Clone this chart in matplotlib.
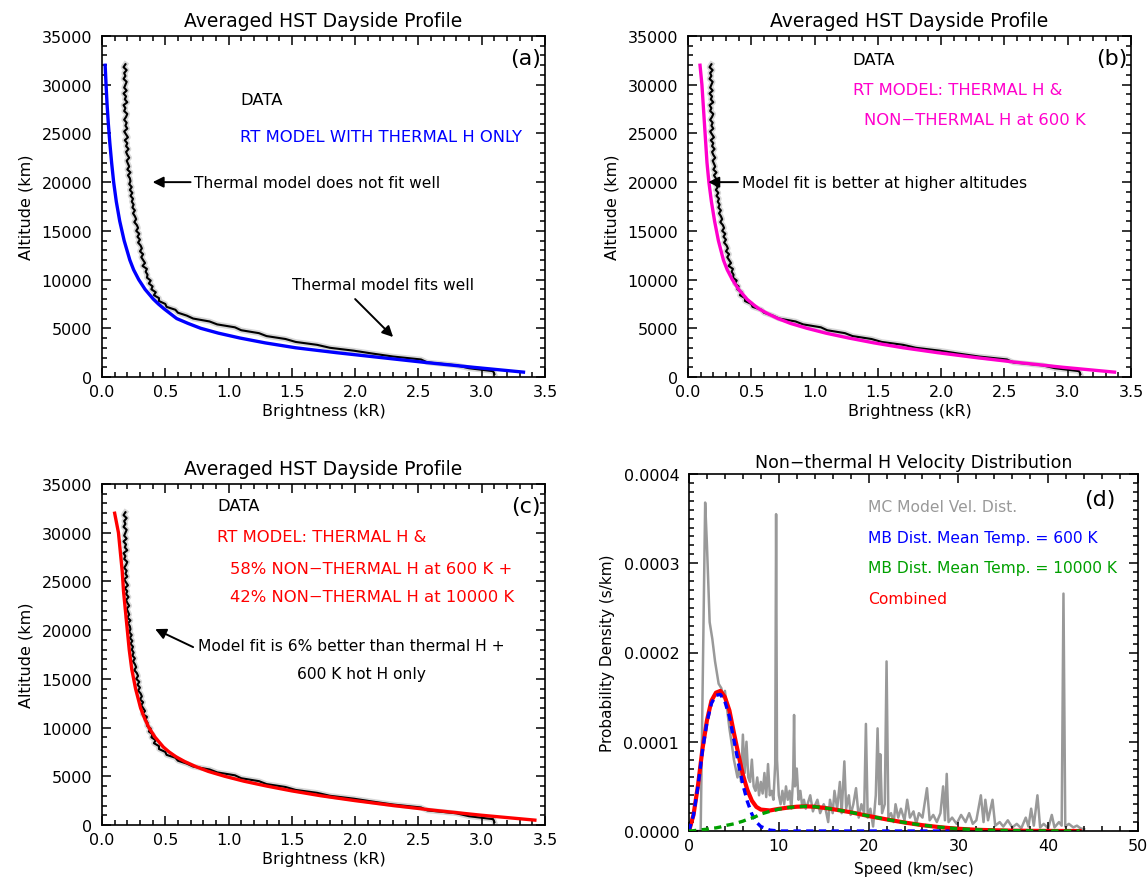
import matplotlib
matplotlib.use("Agg")
import matplotlib.pyplot as plt
from matplotlib.ticker import MultipleLocator, FormatStrFormatter
import numpy as np

# measured brightness profile (same data in a, b, c)
DATA_ALT = np.arange(300, 32101, 300)
DATA_BRIGHT = [3.10, 3.09, 2.90, 2.80, 2.57, 2.52, 2.30, 2.14, 1.99, 1.80,
               1.70, 1.53, 1.45, 1.30, 1.24, 1.10, 1.05, 0.91, 0.85, 0.72,
               0.67, 0.60, 0.58, 0.51, 0.50, 0.45, 0.45, 0.41, 0.425, 0.39,
               0.40, 0.37, 0.385, 0.355, 0.36, 0.345, 0.355, 0.32, 0.34, 0.325,
               0.31, 0.325, 0.30, 0.315, 0.305, 0.285, 0.30, 0.28, 0.295, 0.27,
               0.285, 0.275, 0.255, 0.27, 0.26, 0.245, 0.26, 0.24, 0.25, 0.235,
               0.245, 0.225, 0.24, 0.22, 0.235, 0.215, 0.225, 0.22, 0.205, 0.225,
               0.20, 0.215, 0.205, 0.195, 0.215, 0.20, 0.19, 0.21, 0.19, 0.20,
               0.18, 0.205, 0.19, 0.175, 0.20, 0.185, 0.195, 0.175, 0.19, 0.20,
               0.175, 0.185, 0.17, 0.20, 0.18, 0.19, 0.17, 0.195, 0.175, 0.185,
               0.195, 0.17, 0.185, 0.175, 0.195, 0.17, 0.185]

# radiative transfer models
MODEL_ALT = [500, 1000, 1500, 2000, 2500, 3000, 3500, 4000, 4500, 5000,
             5500, 6000, 6500, 7000, 7500, 8000, 9000, 10000, 11000, 12000,
             14000, 16000, 18000, 20000, 22000, 24000, 26000, 28000, 30000, 32000]
thermal_only = [3.33, 2.93, 2.55, 2.20, 1.85, 1.53, 1.29, 1.09, 0.92, 0.78,
                0.68, 0.59, 0.54, 0.49, 0.445, 0.405, 0.34, 0.29, 0.25, 0.22,
                0.175, 0.14, 0.113, 0.092, 0.076, 0.062, 0.050, 0.040, 0.032, 0.025]
thermal_600 = [3.37, 2.96, 2.60, 2.27, 1.97, 1.70, 1.47, 1.27, 1.09, 0.94,
               0.81, 0.71, 0.63, 0.56, 0.51, 0.465, 0.40, 0.35, 0.31, 0.28,
               0.24, 0.21, 0.185, 0.165, 0.15, 0.14, 0.13, 0.12, 0.11, 0.095]
thermal_600_10000 = [3.42, 3.00, 2.63, 2.30, 2.00, 1.73, 1.50, 1.30, 1.12, 0.97,
                     0.84, 0.74, 0.655, 0.585, 0.53, 0.485, 0.42, 0.37, 0.335, 0.305,
                     0.265, 0.235, 0.215, 0.20, 0.185, 0.17, 0.16, 0.145, 0.13, 0.10]

# velocity distributions (probability density in 1e-6 s/km)
MC_SPEED = [0, 1.3, 1.5, 1.8, 2.0, 2.3, 2.6, 2.9, 3.3, 3.6, 3.8, 4.0, 4.2, 4.5, 4.8,
            5.0, 5.2, 5.4, 5.6, 5.8, 6.0, 6.2, 6.4, 6.6, 6.8, 7.0, 7.2, 7.4, 7.6, 7.8,
            8.0, 8.2, 8.4, 8.6, 8.8, 9.0, 9.2, 9.4, 9.6, 9.7, 9.8, 10.0, 10.2, 10.4, 10.6,
            10.8, 11.0, 11.2, 11.4, 11.6, 11.7, 11.8, 12.0, 12.2, 12.4, 12.6, 12.8, 13.0,
            13.2, 13.5, 13.8, 14.0, 14.3, 14.6, 15.0, 15.2, 15.5, 15.7, 16.0, 16.2, 16.5,
            16.8, 17.0, 17.3, 17.5, 17.8, 18.0, 18.3, 18.6, 18.9, 19.2, 19.5, 19.7, 19.9,
            20.2, 20.5, 20.8, 21.0, 21.2, 21.3, 21.5, 21.8, 22.0, 22.2, 22.5, 22.8, 23.0,
            23.3, 23.6, 24.0, 24.3, 24.6, 25.0, 25.3, 25.6, 26.0, 26.5, 26.8, 27.2, 27.6,
            28.0, 28.3, 28.5, 28.7, 28.9, 29.3, 29.8, 30.3, 30.8, 31.2, 31.6, 32.0, 32.5,
            32.8, 33.0, 33.3, 33.8, 34.1, 34.6, 35.0, 35.5, 36.0, 36.5, 37.0, 37.5, 37.8,
            38.1, 38.4, 38.8, 39.1, 39.5, 40.0, 40.4, 40.7, 41.2, 41.5, 41.7, 41.9, 42.3,
            42.8, 43.2, 43.6, 44.0]
MC_PDF = [0, 0, 150, 368, 320, 234, 215, 190, 165, 160, 150, 157, 140, 115, 95,
          80, 70, 60, 75, 55, 108, 65, 100, 60, 55, 80, 50, 45, 60, 40,
          55, 42, 65, 38, 75, 40, 45, 35, 75, 355, 80, 40, 30, 45, 30,
          50, 35, 45, 25, 60, 130, 50, 70, 35, 45, 28, 35, 25,
          30, 40, 22, 28, 35, 20, 30, 25, 10, 35, 20, 45, 25,
          55, 20, 78, 25, 40, 18, 30, 48, 15, 30, 20, 120, 15,
          25, 5, 40, 115, 30, 86, 20, 30, 190, 15, 20, 10, 30,
          15, 25, 12, 35, 15, 22, 8, 20, 15, 48, 12, 18, 10,
          20, 50, 12, 64, 10, 15, 8, 18, 10, 20, 8, 12, 40,
          10, 35, 12, 35, 6, 10, 5, 12, 4, 8, 3, 15, 5,
          25, 6, 40, 4, 8, 3, 18, 4, 10, 6, 266, 5, 8,
          4, 6, 3, 2]

MB_SPEED = [0, 0.5, 1, 1.5, 2, 2.5, 3, 3.5, 4, 4.5, 5, 5.5, 6, 6.5, 7, 7.5, 8, 9,
            10, 11, 12, 13, 14, 15, 16, 18, 20, 22, 24, 26, 28, 29, 30, 32, 34, 36,
            38, 40, 42, 43.5]
mb_600 = [0, 18, 50, 90, 122, 143, 152, 153, 145, 128, 102, 76, 52, 33, 19, 10, 5, 1,
          0, 0, 0, 0, 0, 0, 0, 0, 0, 0, 0, 0, 0, 0]
mb_10000 = [0, 0.3, 1, 1.5, 2, 3, 3.5, 4.5, 6, 7, 8, 9.5, 11, 13, 14.5, 16.5, 19, 22,
            24.5, 26.2, 27.2, 27.6, 27.2, 26, 24.5, 21, 16.8, 13, 9.5, 6.5, 4.2, 3.3, 2.5,
            1.4, 0.8, 0.4, 0.2, 0.1, 0, 0]
combined = [0, 18, 51, 92, 124, 146, 155, 157, 150, 135, 110, 86, 63, 46, 34, 27, 24, 23,
            24.8, 26.2, 27.2, 27.6, 27.2, 26, 24.5, 21, 16.8, 13, 9.5, 6.5, 4.2, 3.3, 2.5,
            1.4, 0.8, 0.4, 0.2, 0.1, 0, 0]

W, H = 1147, 879
fig = plt.figure(figsize=(W / 100, H / 100), dpi=100)
plt.rcParams['font.family'] = ['DejaVu Sans']


def px_axes(l, t, r, b):
    return fig.add_axes([l / W, 1 - b / H, (r - l) / W, (b - t) / H])


def style(ax):
    ax.tick_params(which='both', direction='in', top=True, right=True, width=1.1,
                   labelsize=11.5)
    ax.tick_params(which='major', length=6.5)
    ax.tick_params(which='minor', length=3.5)
    ax.tick_params(axis='x', pad=5)
    ax.tick_params(axis='y', pad=7)
    for s in ax.spines.values():
        s.set_linewidth(1.2)


def profile_axes(l, t, r, b, tag):
    ax = px_axes(l, t, r, b)
    style(ax)
    ax.set_xlim(0, 3.5)
    ax.set_ylim(0, 35000)
    ax.xaxis.set_major_locator(MultipleLocator(0.5))
    ax.xaxis.set_minor_locator(MultipleLocator(0.1))
    ax.xaxis.set_major_formatter(FormatStrFormatter('%.1f'))
    ax.yaxis.set_major_locator(MultipleLocator(5000))
    ax.yaxis.set_minor_locator(MultipleLocator(1000))
    ax.set_title('Averaged HST Dayside Profile', fontsize=13.5, pad=7)
    ax.set_xlabel('Brightness (kR)', fontsize=11.5, labelpad=3)
    ax.set_ylabel('Altitude (km)', fontsize=11.5, labelpad=6)
    ax.text(3.35, 32700, tag, fontsize=16, ha='center', va='center')
    ax.plot(DATA_BRIGHT, DATA_ALT, color='#d8d8d8', lw=4.0, zorder=1)
    ax.plot(DATA_BRIGHT, DATA_ALT, color='black', lw=1.5, zorder=2)
    return ax


def arrow(ax, tail, head):
    ax.annotate('', xy=head, xytext=tail,
                arrowprops=dict(arrowstyle='-|>', color='black', lw=1.4,
                                mutation_scale=16, shrinkA=0, shrinkB=0))


fs = 11.2   # mixed-case notes
fu = 11.8   # upper-case labels

# (a)
ax = profile_axes(102, 37, 545, 378, '(a)')
ax.plot(thermal_only, MODEL_ALT, color='#0000ff', lw=2.4, zorder=3)
ax.text(1.09, 28500, 'DATA', fontsize=fu, va='center')
ax.text(1.09, 24700, 'RT MODEL WITH THERMAL H ONLY', fontsize=fu, va='center', color='#0000ff')
ax.text(0.73, 20000, 'Thermal model does not fit well', fontsize=fs, va='center')
arrow(ax, (0.70, 20000), (0.40, 20000))
ax.text(1.50, 9540, 'Thermal model fits well', fontsize=fs, va='center')
arrow(ax, (2.0, 8000), (2.30, 4100))

# (b)
ax = profile_axes(688, 37, 1131, 378, '(b)')
ax.plot(thermal_600, MODEL_ALT, color='#ff00cc', lw=2.4, zorder=3)
ax.text(1.30, 32600, 'DATA', fontsize=fu, va='center')
ax.text(1.30, 29550, 'RT MODEL: THERMAL H &', fontsize=fu, va='center', color='#ff00cc')
ax.text(1.39, 26470, 'NON\u2212THERMAL H at 600 K', fontsize=fu, va='center', color='#ff00cc')
ax.text(0.43, 20000, 'Model fit is better at higher altitudes', fontsize=fs, va='center')
arrow(ax, (0.395, 20000), (0.16, 20000))

# (c)
ax = profile_axes(102, 485, 545, 826, '(c)')
ax.plot(thermal_600_10000, MODEL_ALT, color='#ff0000', lw=2.4, zorder=3)
ax.text(0.91, 32800, 'DATA', fontsize=fu, va='center')
ax.text(0.91, 29650, 'RT MODEL: THERMAL H &', fontsize=fu, va='center', color='#ff0000')
ax.text(1.01, 26370, '58% NON\u2212THERMAL H at 600 K +', fontsize=fu, va='center', color='#ff0000')
ax.text(1.01, 23500, '42% NON\u2212THERMAL H at 10000 K', fontsize=fu, va='center', color='#ff0000')
ax.text(0.76, 18470, 'Model fit is 6% better than thermal H +', fontsize=fs, va='center')
ax.text(1.54, 15600, '600 K hot H only', fontsize=fs, va='center')
arrow(ax, (0.72, 18260), (0.42, 20110))

# (d)
ax = px_axes(689, 475, 1138, 832)
style(ax)
ax.set_xlim(0, 50)
ax.set_ylim(0, 0.0004)
ax.xaxis.set_major_locator(MultipleLocator(10))
ax.xaxis.set_minor_locator(MultipleLocator(2))
ax.yaxis.set_major_locator(MultipleLocator(0.0001))
ax.yaxis.set_minor_locator(MultipleLocator(0.00001))
ax.yaxis.set_major_formatter(FormatStrFormatter('%.4f'))
ax.set_title('Non\u2212thermal H Velocity Distribution', fontsize=12.5, pad=5)
ax.set_xlabel('Speed (km/sec)', fontsize=11, labelpad=6)
ax.set_ylabel('Probability Density (s/km)', fontsize=11, labelpad=6)
sc = 1e-6
ax.plot(MC_SPEED, np.array(MC_PDF) * sc, color='#999999', lw=1.8, zorder=1)
ax.plot(MB_SPEED, np.array(combined) * sc, color='#ff0000', lw=3.0, zorder=2)
ax.plot(MB_SPEED[:len(mb_600)], np.array(mb_600) * sc, color='#0000ff', lw=2.4,
        ls=(0, (2.2, 1.6)), zorder=3)
ax.plot(MB_SPEED, np.array(mb_10000) * sc, color='#00a000', lw=2.4,
        ls=(0, (2.2, 1.6)), zorder=4)
ax.text(19.9, 0.000364, 'MC Model Vel. Dist.', fontsize=fs, va='center', color='#999999')
ax.text(19.9, 0.000329, 'MB Dist. Mean Temp. = 600 K', fontsize=fs, va='center', color='#0000ff')
ax.text(19.9, 0.000295, 'MB Dist. Mean Temp. = 10000 K', fontsize=fs, va='center', color='#00a000')
ax.text(19.9, 0.000260, 'Combined', fontsize=fs, va='center', color='#ff0000')
ax.text(45.8, 0.000372, '(d)', fontsize=16, ha='center', va='center')

fig.savefig('out.png', dpi=100)
